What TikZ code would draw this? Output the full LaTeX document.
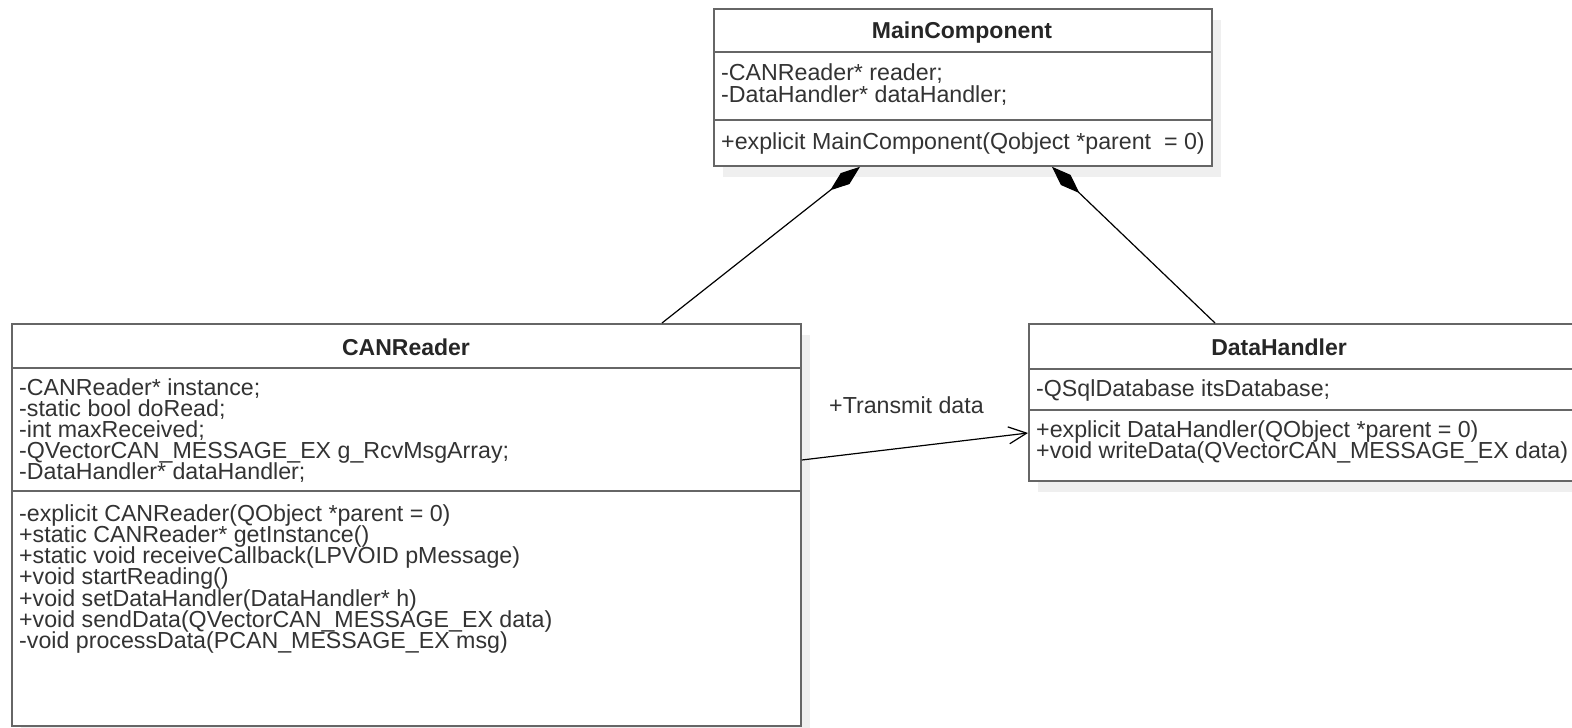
\documentclass[tikz,border=0pt]{standalone}
\usepackage{fontspec}
\setmainfont{Liberation Sans}
\usetikzlibrary{arrows.meta}
\definecolor{boxline}{HTML}{666666}
\definecolor{txt}{HTML}{333333}
\definecolor{shade}{HTML}{EFEFEF}
\tikzset{
  classbox/.style={draw=boxline, line width=1.8pt, fill=white, inner sep=0pt, anchor=north west},
  shadowbox/.style={fill=shade, draw=none, inner sep=0pt, anchor=north west},
  divider/.style={draw=boxline, line width=1.8pt},
  member/.style={inner sep=0pt, anchor=base west, text=txt, font=\fontsize{23.2}{21}\selectfont},
  classtitle/.style={inner sep=0pt, anchor=base, text=black!85, font=\bfseries\fontsize{23}{21}\selectfont},
  composition/.style={draw=black, line width=1.2pt, -{Diamond[length=38pt,width=14pt]}},
  assoc/.style={draw=black, line width=1.2pt, -{Straight Barb[length=18pt,width=17pt]}},
}
\begin{document}
\begin{tikzpicture}[x=1pt,y=-1pt]
\useasboundingbox (0,0) rectangle (1572,728);
\clip (0,0) rectangle (1572,728);
\fill[white] (0,0) rectangle (1572,728);

% MainComponent
\node[shadowbox, minimum width=498pt, minimum height=157pt] (mcS) at (723,20) {};
\node[classbox, minimum width=498pt, minimum height=157pt] (mc) at (713,8) {};
\draw[divider] (mc.west |- 0,52) -- (mc.east |- 0,52);
\draw[divider] (mc.west |- 0,120) -- (mc.east |- 0,120);
\node[classtitle] (mcT) at (962,38) {MainComponent};
\node[member] (mcA1) at (721,80) {-CANReader* reader;};
\node[member] (mcA2) at (721,102) {-DataHandler* dataHandler;};
\node[member] (mcM1) at (721,149) {+explicit MainComponent(Qobject *parent\ \ = 0)};

% CANReader
\node[shadowbox, minimum width=789pt, minimum height=402pt] (crS) at (21,335) {};
\node[classbox, minimum width=789pt, minimum height=402pt] (cr) at (11,323) {};
\draw[divider] (cr.west |- 0,368) -- (cr.east |- 0,368);
\draw[divider] (cr.west |- 0,491) -- (cr.east |- 0,491);
\node[classtitle] (crT) at (406,355) {CANReader};
\node[member] (crA1) at (19,395) {-CANReader* instance;};
\node[member] (crA2) at (19,416) {-static bool doRead;};
\node[member] (crA3) at (19,437) {-int maxReceived;};
\node[member] (crA4) at (19,458) {-QVectorCAN\_MESSAGE\_EX g\_RcvMsgArray;};
\node[member] (crA5) at (19,479) {-DataHandler* dataHandler;};
\node[member] (crM1) at (19,521) {-explicit CANReader(QObject *parent = 0)};
\node[member] (crM2) at (19,542.3) {+static CANReader* getInstance()};
\node[member] (crM3) at (19,563.6) {+static void receiveCallback(LPVOID pMessage)};
\node[member] (crM4) at (19,584.9) {+void startReading()};
\node[member] (crM5) at (19,606.2) {+void setDataHandler(DataHandler* h)};
\node[member] (crM6) at (19,627.5) {+void sendData(QVectorCAN\_MESSAGE\_EX data)};
\node[member] (crM7) at (19,648.8) {-void processData(PCAN\_MESSAGE\_EX msg)};

% DataHandler
\node[shadowbox, minimum width=560pt, minimum height=157pt] (dhS) at (1038,335) {};
\node[classbox, minimum width=560pt, minimum height=157pt] (dh) at (1028,323) {};
\draw[divider] (dh.west |- 0,369) -- (dh.east |- 0,369);
\draw[divider] (dh.west |- 0,410) -- (dh.east |- 0,410);
\node[classtitle] (dhT) at (1279,355) {DataHandler};
\node[member] (dhA1) at (1036,396) {-QSqlDatabase itsDatabase;};
\node[member] (dhM1) at (1036,437) {+explicit DataHandler(QObject *parent = 0)};
\node[member] (dhM2) at (1036,458) {+void writeData(QVectorCAN\_MESSAGE\_EX data)};

% connectors
\draw[composition] ([xshift=651pt]cr.north west) -- ([xshift=147pt]mc.south west);
\draw[composition] ([xshift=187pt]dh.north west) -- ([xshift=339pt]mc.south west);
\draw[assoc] ([yshift=-137pt]cr.north east) -- ([yshift=-110pt]dh.north west);
\node[member] (lbl) at (829,413) {+Transmit data};
\end{tikzpicture}
\end{document}
